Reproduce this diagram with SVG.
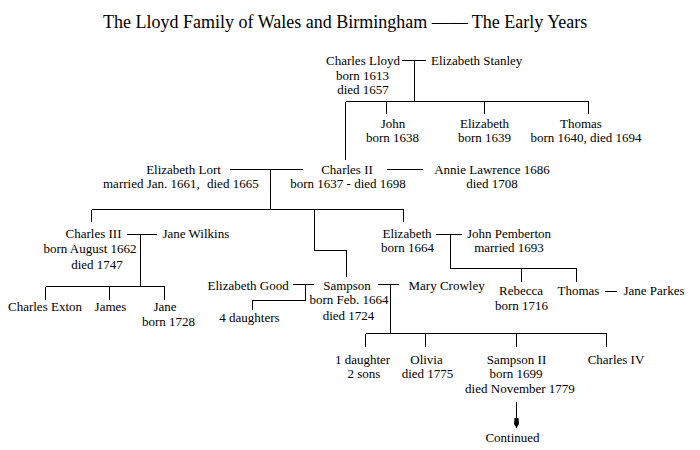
<svg xmlns="http://www.w3.org/2000/svg" width="700" height="450" viewBox="0 0 700 450">
<defs>
<style>
.t{font-family:"Liberation Serif","Times New Roman",serif;font-size:13px;fill:#000;text-anchor:middle}
.s{text-anchor:start}
.e{text-anchor:end}
.title{font-family:"Liberation Serif","Times New Roman",serif;font-size:18px;fill:#000}
.c path{fill:none;stroke:#000;stroke-width:1;shape-rendering:crispEdges}
</style>
<marker id="arr" viewBox="0 0 10 5" refX="10" refY="2.5" markerWidth="10" markerHeight="5" markerUnits="userSpaceOnUse" orient="auto">
<path d="M0,0.5 L6,0 L10,2.5 L6,5 L0,4.5 z" fill="#000"/>
</marker>
</defs>
<rect width="700" height="450" fill="#fff"/>
<text id="title" class="title" x="103" y="27.5">The Lloyd Family of Wales and Birmingham —— The Early Years</text>

<g id="connectors" class="c">
<path d="M402 60.5H426M414.5 60.5V102"/>
<path d="M345.5 101.5H589M386.5 101.5V114M484.5 101.5V114M588.5 101.5V114M345.5 101.5V160"/>
<path d="M230 169.5H303M270.5 169.5V210M387 169.5H423"/>
<path d="M91.5 209.5H403.5M91.5 209.5V222M403.5 209.5V222M314.5 209.5V250.5H346.5V277"/>
<path d="M126.5 234.5H157M140.5 234.5V286.5M45.5 286.5H164.5M45.5 286.5V300M109.5 286.5V300M164.5 286.5V300"/>
<path d="M436 234.5H462M450.5 234.5V268.5H576.5M521.5 268.5V282M576.5 268.5V282M605 291.5H617"/>
<path d="M293 284.5H314M305.5 284.5V300.5H252.5V310"/>
<path d="M378 284.5H399M390.5 284.5V333.5M365.5 333.5H606.5M365.5 333.5V347M425.5 333.5V347M516.5 333.5V347M606.5 333.5V347"/>
<path d="M516.5 402V428" marker-end="url(#arr)"/>
</g>

<g id="charles-lloyd" class="t">
<text x="363" y="65">Charles Lloyd</text>
<text x="362.5" y="79.5">born 1613</text>
<text x="363" y="94">died 1657</text>
</g>
<g id="elizabeth-stanley"><text class="t s" x="431" y="65">Elizabeth Stanley</text></g>
<g id="john" class="t">
<text x="393" y="128">John</text>
<text x="392.5" y="142">born 1638</text>
</g>
<g id="elizabeth-1639" class="t">
<text x="484.5" y="128">Elizabeth</text>
<text x="484.5" y="142">born 1639</text>
</g>
<g id="thomas-1640" class="t">
<text x="581" y="128">Thomas</text>
<text x="586" y="142">born 1640, died 1694</text>
</g>
<g id="elizabeth-lort" class="t">
<text x="183.5" y="173.5">Elizabeth Lort</text>
<text class="t s" x="103" y="188">married Jan. 1661,</text>
<text class="t s" x="207" y="188">died 1665</text>
</g>
<g id="charles-ii" class="t">
<text x="347" y="173.5">Charles II</text>
<text x="348" y="188">born 1637 - died 1698</text>
</g>
<g id="annie-lawrence" class="t">
<text x="492" y="173.5">Annie Lawrence 1686</text>
<text x="492" y="188">died 1708</text>
</g>
<g id="charles-iii" class="t">
<text x="93.5" y="238">Charles III</text>
<text x="90" y="253">born August 1662</text>
<text x="97" y="269">died 1747</text>
</g>
<g id="jane-wilkins"><text class="t s" x="162.5" y="238">Jane Wilkins</text></g>
<g id="charles-exton"><text class="t" x="45" y="311">Charles Exton</text></g>
<g id="james"><text class="t" x="110.5" y="311">James</text></g>
<g id="jane" class="t">
<text x="165" y="311">Jane</text>
<text x="168.5" y="326">born 1728</text>
</g>
<g id="elizabeth-1664" class="t">
<text x="407" y="238">Elizabeth</text>
<text x="407.5" y="252">born 1664</text>
</g>
<g id="john-pemberton" class="t">
<text x="509" y="238">John Pemberton</text>
<text x="509" y="252">married 1693</text>
</g>
<g id="rebecca" class="t">
<text x="521" y="295">Rebecca</text>
<text x="521.5" y="309.5">born 1716</text>
</g>
<g id="thomas"><text class="t" x="578.5" y="295">Thomas</text></g>
<g id="jane-parkes"><text class="t s" x="623.5" y="295">Jane Parkes</text></g>
<g id="elizabeth-good"><text class="t s" x="207.5" y="289.5">Elizabeth Good</text></g>
<g id="four-daughters"><text class="t" x="249.5" y="321.5">4 daughters</text></g>
<g id="sampson" class="t">
<text x="347" y="289.5">Sampson</text>
<text x="349" y="304">born Feb. 1664</text>
<text x="348.5" y="319.5">died 1724</text>
</g>
<g id="mary-crowley"><text class="t s" x="408.5" y="289.5">Mary Crowley</text></g>
<g id="daughter-sons" class="t">
<text x="362.5" y="363.5">1 daughter</text>
<text x="364" y="378">2 sons</text>
</g>
<g id="olivia" class="t">
<text x="426.5" y="363.5">Olivia</text>
<text x="427.5" y="378">died 1775</text>
</g>
<g id="sampson-ii" class="t">
<text x="516.5" y="363.5">Sampson II</text>
<text x="516" y="378">born 1699</text>
<text x="520" y="393">died November 1779</text>
</g>
<g id="charles-iv"><text class="t" x="616" y="363.5">Charles IV</text></g>
<g id="continued"><text class="t" x="512.5" y="442">Continued</text></g>
</svg>
